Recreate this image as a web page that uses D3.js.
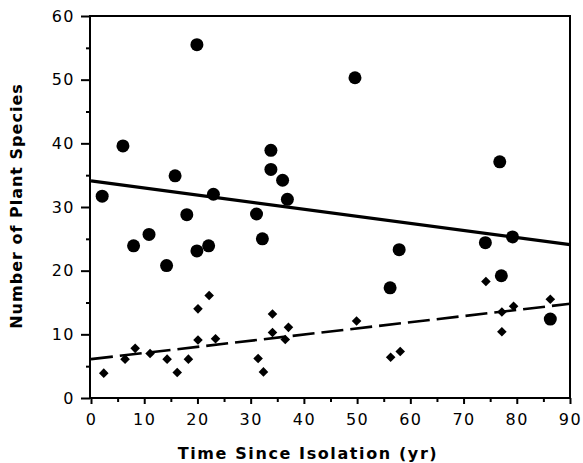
<!DOCTYPE html>
<html>
<head>
<meta charset="utf-8">
<script src="https://cdn.jsdelivr.net/npm/d3@7"></script>
<style>
body{margin:0;background:#fff;}
text{font-family:"DejaVu Sans",sans-serif;fill:#000;}
</style>
</head>
<body>
<main></main>
<script>
const w=583;
const h=463;
// circles: total plant species
const circleX=[2.1,6,8,10.9,14.2,15.8,18,19.9,19.9,22.1,23,31.1,32.2,33.8,33.8,36,36.9,49.6,56.2,57.9,74.1,76.8,77.1,79.2,86.3];
const circleY=[31.7,39.6,23.9,25.7,20.8,34.9,28.8,55.5,23.1,23.9,32,28.9,25,38.9,35.9,34.2,31.2,50.3,17.3,23.3,24.4,37.1,19.2,25.3,12.4];
// diamonds: second group
const diamondX=[2.4,6.4,8.3,11.1,14.3,16.2,18.3,20.1,22.2,20.1,23.4,34.1,34.1,37.1,36.5,31.4,32.4,49.9,56.3,58.1,77.2,74.2,79.4,77.2,86.3];
const diamondY=[3.9,6.1,7.8,7.0,6.1,4.0,6.1,14.0,16.1,9.1,9.3,13.2,10.3,11.1,9.2,6.2,4.1,12.1,6.4,7.3,10.4,18.3,14.4,13.5,15.5];
// fitted lines (x start/end, y start/end)
const solidFit=[[0,34.1],[90,24.1]];
const dashFit=[[0,6.1],[90,14.8]];
const xTicks=[0,10,20,30,40,50,60,70,80,90];
const yTicks=[0,10,20,30,40,50,60];

const x=d3.scaleLinear().domain([0,90]).range([91,570]);
const y=d3.scaleLinear().domain([0,60]).range([398,16]);

const svg=d3.select("main").append("svg").attr("width",w).attr("height",h);

// frame
svg.append("rect")
   .attr("x",x(0)-1).attr("y",y(60))
   .attr("width",x(90)-x(0)+1).attr("height",y(0)-y(60))
   .attr("fill","none").attr("stroke","#000").attr("stroke-width",2);

const xAxis=d3.axisBottom(x).tickValues(xTicks).tickSize(6).tickPadding(10);
const xMinor=d3.axisBottom(x).tickValues(d3.range(5,90,10)).tickSize(4).tickFormat("");
const yAxis=d3.axisLeft(y).tickValues(yTicks).tickSize(9).tickPadding(6);
const yMinor=d3.axisLeft(y).tickValues(d3.range(5,60,10)).tickSize(4).tickFormat("");

[[xAxis,"translate(0,"+y(0)+")"],[xMinor,"translate(0,"+y(0)+")"],
 [yAxis,"translate("+(x(0)-1)+",0)"],[yMinor,"translate("+(x(0)-1)+",0)"]].forEach(a=>{
  const g=svg.append("g").attr("transform",a[1]).call(a[0]);
  g.select(".domain").remove();
  g.selectAll("line").attr("stroke","#000").attr("stroke-width",2);
  g.selectAll("text").style("font-size","16px").style("letter-spacing","1.5px");
});

// regression lines
svg.append("line")
   .attr("x1",x(solidFit[0][0])).attr("y1",y(solidFit[0][1]))
   .attr("x2",x(solidFit[1][0])).attr("y2",y(solidFit[1][1]))
   .attr("stroke","#000").attr("stroke-width",3.2);
svg.append("line")
   .attr("x1",x(dashFit[0][0])).attr("y1",y(dashFit[0][1]))
   .attr("x2",x(dashFit[1][0])).attr("y2",y(dashFit[1][1]))
   .attr("stroke","#000").attr("stroke-width",2.6)
   .attr("stroke-dasharray","22,7");

// points
svg.selectAll("circle.dot")
   .data(circleX)
   .enter()
   .append("circle")
   .attr("class","dot")
   .attr("cx",d=>x(d))
   .attr("cy",(d,i)=>y(circleY[i]))
   .attr("r",6.5)
   .attr("fill","#000");

const diamond=d3.symbol().type(d3.symbolSquare).size(46);
svg.selectAll("path.dia")
   .data(diamondX)
   .enter()
   .append("path")
   .attr("class","dia")
   .attr("d",diamond)
   .attr("transform",(d,i)=>"translate("+x(d)+","+y(diamondY[i])+") rotate(45)")
   .attr("fill","#000");

// axis titles
svg.append("text")
   .attr("x",308).attr("y",459)
   .attr("text-anchor","middle")
   .style("font-size","16px").style("font-weight","bold").style("letter-spacing","1.6px")
   .text("Time Since Isolation (yr)");
svg.append("text")
   .attr("transform","translate(22,206) rotate(-90)")
   .attr("text-anchor","middle")
   .style("font-size","16px").style("font-weight","bold").style("letter-spacing","1px")
   .text("Number of Plant Species");
</script>
</body>
</html>
